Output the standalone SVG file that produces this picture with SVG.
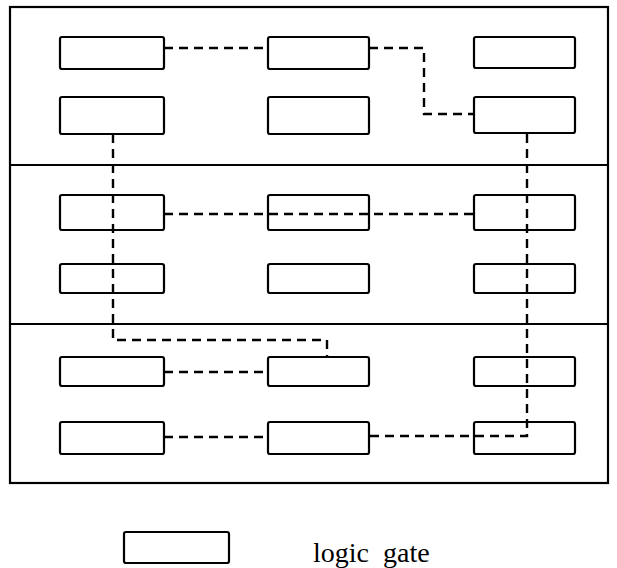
<svg xmlns="http://www.w3.org/2000/svg" width="617" height="568" viewBox="0 0 617 568">
  <style>
    .frame { fill: none; stroke: #000; stroke-width: 2.2; }
    .gate { fill: #fff; stroke: #000; stroke-width: 2.2; }
    .wire { fill: none; stroke: #000; stroke-width: 2.4; stroke-dasharray: 9 6; }
    .label { font-family: "Liberation Serif", "Times New Roman", serif; font-size: 28px; fill: #000; }
  </style>

  <!-- outer frame with three horizontal sections -->
  <g id="frame">
    <rect class="frame" x="10" y="7" width="598" height="476"/>
    <line class="frame" x1="10" y1="165" x2="608" y2="165"/>
    <line class="frame" x1="10" y1="324" x2="608" y2="324"/>
  </g>

  <!-- logic gates: 3 columns x 6 rows -->
  <g id="g11"><rect class="gate" x="60" y="37" width="104" height="32" rx="2"/></g>
  <g id="g12"><rect class="gate" x="268" y="37" width="101" height="32" rx="2"/></g>
  <g id="g13"><rect class="gate" x="474" y="37" width="101" height="31" rx="2"/></g>

  <g id="g21"><rect class="gate" x="60" y="97" width="104" height="37" rx="2"/></g>
  <g id="g22"><rect class="gate" x="268" y="97" width="101" height="37" rx="2"/></g>
  <g id="g23"><rect class="gate" x="474" y="97" width="101" height="36" rx="2"/></g>

  <g id="g31"><rect class="gate" x="60" y="195" width="104" height="35" rx="2"/></g>
  <g id="g32"><rect class="gate" x="268" y="195" width="101" height="35" rx="2"/></g>
  <g id="g33"><rect class="gate" x="474" y="195" width="101" height="35" rx="2"/></g>

  <g id="g41"><rect class="gate" x="60" y="264" width="104" height="29" rx="2"/></g>
  <g id="g42"><rect class="gate" x="268" y="264" width="101" height="29" rx="2"/></g>
  <g id="g43"><rect class="gate" x="474" y="264" width="101" height="29" rx="2"/></g>

  <g id="g51"><rect class="gate" x="60" y="357" width="104" height="29" rx="2"/></g>
  <g id="g52"><rect class="gate" x="268" y="357" width="101" height="29" rx="2"/></g>
  <g id="g53"><rect class="gate" x="474" y="357" width="101" height="29" rx="2"/></g>

  <g id="g61"><rect class="gate" x="60" y="422" width="104" height="32" rx="2"/></g>
  <g id="g62"><rect class="gate" x="268" y="422" width="101" height="32" rx="2"/></g>
  <g id="g63"><rect class="gate" x="474" y="422" width="101" height="32" rx="2"/></g>

  <!-- dashed interconnect wires (drawn over the gates they cross) -->
  <g id="wires">
    <path class="wire" d="M164 48 H268"/>
    <path class="wire" d="M369 48 H424 V114 H474"/>
    <path class="wire" d="M113 134 V340 H327 V357"/>
    <path class="wire" d="M164 214 H474"/>
    <path class="wire" d="M527 134 V436 H369"/>
    <path class="wire" d="M164 372 H268"/>
    <path class="wire" d="M164 437 H268"/>
  </g>

  <!-- legend -->
  <g id="legend">
    <rect class="gate" x="124" y="532" width="105" height="31" rx="2"/>
    <text class="label" x="313" y="562" xml:space="preserve">logic  gate</text>
  </g>
</svg>
